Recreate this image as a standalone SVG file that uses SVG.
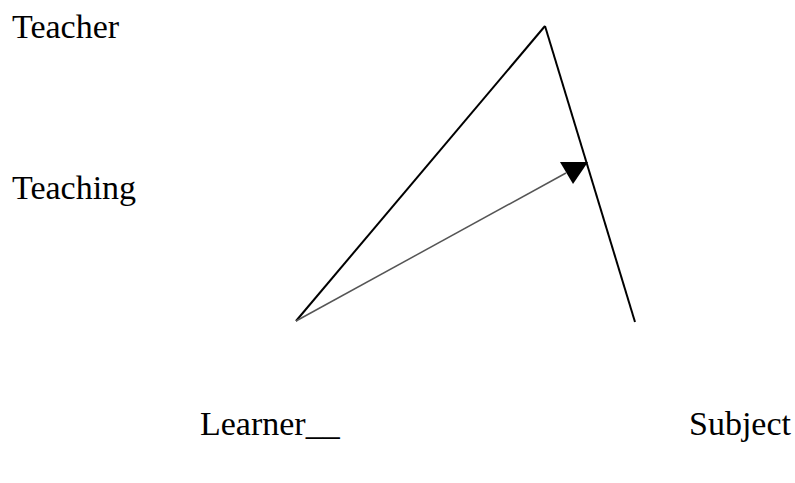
<svg xmlns="http://www.w3.org/2000/svg" width="795" height="483" viewBox="0 0 795 483">
<style>
.lbl{font-family:"Liberation Serif","Times New Roman",serif;font-size:34px;fill:#000}
.edge{stroke:#000;stroke-width:2;fill:none}
</style>
<rect width="795" height="483" fill="#fff"/>
<g id="connectors">
<line class="edge" x1="545" y1="26" x2="296" y2="321"/>
<line class="edge" x1="545" y1="26" x2="635" y2="322"/>
<line x1="296" y1="321" x2="566" y2="173" stroke="#555" stroke-width="1.5"/>
<polygon points="560,162 588,162 573,184" fill="#000"/>
</g>
<g id="teacher"><text class="lbl" x="12" y="38">Teacher</text></g>
<g id="teaching"><text class="lbl" x="12" y="199">Teaching</text></g>
<g id="learner"><text class="lbl" x="200" y="435">Learner__</text></g>
<g id="subject"><text class="lbl" x="689" y="435">Subject</text></g>
</svg>
